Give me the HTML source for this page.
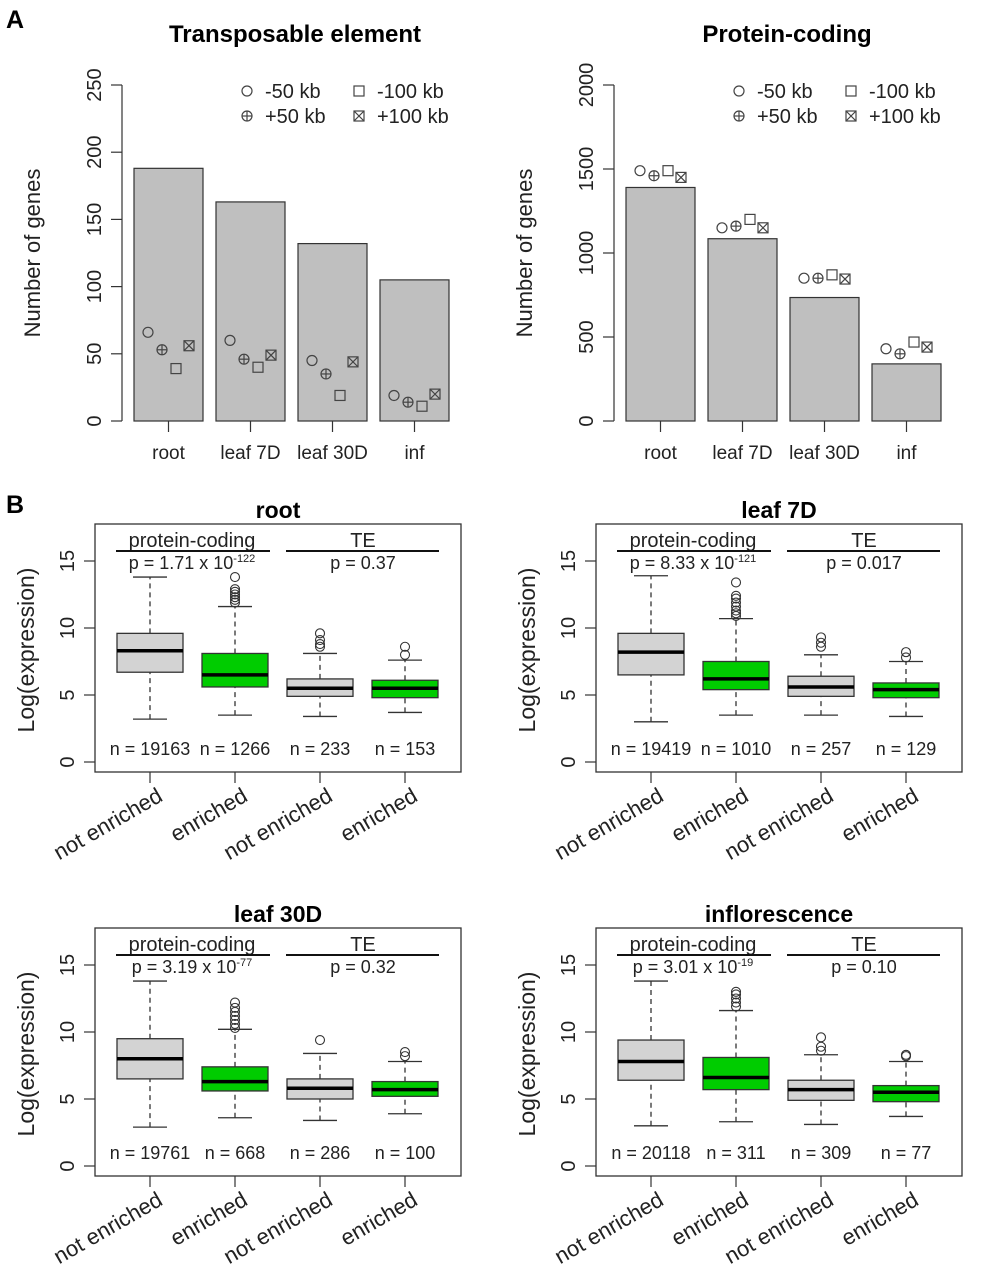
<!DOCTYPE html>
<html><head><meta charset="utf-8"><style>
body{margin:0;background:#fff}
svg{display:block;font-family:"Liberation Sans",Arial,sans-serif}
</style></head><body>
<svg id="fig" width="983" height="1280" viewBox="0 0 983 1280" xmlns="http://www.w3.org/2000/svg">
<text x="6" y="28" font-size="25" font-weight="bold">A</text>
<text x="6" y="513" font-size="25" font-weight="bold">B</text>
</svg>
<script>
const svg=document.getElementById('fig');
const NS='http://www.w3.org/2000/svg';
function mk(tag,attrs,parent){const e=document.createElementNS(NS,tag);for(const k in attrs)e.setAttribute(k,attrs[k]);(parent||svg).appendChild(e);return e;}
function txt(x,y,s,size,attrs,parent){const e=mk('text',Object.assign({x:x,y:y,'font-size':size},attrs||{}),parent);e.textContent=s;return e;}

// ---- Panel A data ----
const barCategories=['root','leaf 7D','leaf 30D','inf'];
const teBars=[188,163,132,105];
const teMinus50=[66,60,45,19];
const tePlus50=[53,46,35,14];
const teMinus100=[39,40,19,11];
const tePlus100=[56,49,44,20];
const teTicks=[0,50,100,150,200,250];
const pcBars=[1390,1085,735,340];
const pcMinus50=[1490,1150,850,430];
const pcPlus50=[1460,1160,850,400];
const pcMinus100=[1490,1200,870,470];
const pcPlus100=[1450,1150,845,440];
const pcTicks=[0,500,1000,1500,2000];

function marker(g,type,x,y){
  const st={fill:'none',stroke:'#444','stroke-width':1.2};
  if(type==='circle'||type==='cplus'){const c=mk('circle',Object.assign({cx:x,cy:y,r:5},st),g);
    if(type==='cplus'){mk('line',Object.assign({x1:x-5,y1:y,x2:x+5,y2:y},st),g);mk('line',Object.assign({x1:x,y1:y-5,x2:x,y2:y+5},st),g);}}
  else{const r=mk('rect',Object.assign({x:x-5,y:y-5,width:10,height:10},st),g);
    if(type==='sx'){mk('line',Object.assign({x1:x-5,y1:y-5,x2:x+5,y2:y+5},st),g);mk('line',Object.assign({x1:x+5,y1:y-5,x2:x-5,y2:y+5},st),g);}}
}

function barPanel(name,ox,title,bars,series,ticks,max){
  const g=mk('g',{});
  
  
  const y0=421,ytop=85;
  const yS=v=>y0-(v/max)*(y0-ytop);
  const axX=ox, firstC=ox+46.5, step=82, bw=69;
  const t=txt(ox+173,42,title,24,{'font-weight':'bold','text-anchor':'middle'},g);
  
  mk('line',{x1:axX,y1:yS(ticks[0]),x2:axX,y2:yS(ticks[ticks.length-1]),stroke:'#333','stroke-width':1.2},g);
  ticks.forEach(v=>{const y=yS(v);mk('line',{x1:axX-11,y1:y,x2:axX,y2:y,stroke:'#333','stroke-width':1.2},g);
    const l=txt(axX-21,y,String(v),20,{'text-anchor':'middle',transform:`rotate(-90 ${axX-21} ${y})`,fill:'#222'},g);});
  const yl=txt(ox-82,253,'Number of genes',22,{'text-anchor':'middle',transform:`rotate(-90 ${ox-82} 253)`,fill:'#222'},g);
  
  bars.forEach((v,i)=>{const cx=firstC+i*step;
    const r=mk('rect',{x:cx-bw/2,y:yS(v),width:bw,height:y0-yS(v),fill:'#bfbfbf',stroke:'#333','stroke-width':1.2},g);
    
    mk('line',{x1:cx,y1:y0,x2:cx,y2:y0+11,stroke:'#333','stroke-width':1.2},g);
    const l=txt(cx,459,barCategories[i],19,{'text-anchor':'middle',fill:'#222'},g);
    const types=['circle','cplus','square','sx'],offs=[-20.5,-6.5,7.5,20.5];
    series.forEach((s,k)=>marker(g,types[k],cx+offs[k],yS(s[i])));
  });
  const lg=mk('g',{},g);
  const lx=ox+125;
  [['circle','-50 kb',0,0],['square','-100 kb',112,0],['cplus','+50 kb',0,25],['sx','+100 kb',112,25]].forEach(([ty,lab,dx,dy])=>{
    marker(lg,ty,lx+dx,91+dy);const e=txt(lx+dx+18,98+dy,lab,20,{fill:'#222'},lg);});
}
barPanel('te-bar-chart',122,'Transposable element',teBars,[teMinus50,tePlus50,teMinus100,tePlus100],teTicks,250);
barPanel('pc-bar-chart',614,'Protein-coding',pcBars,[pcMinus50,pcPlus50,pcMinus100,pcPlus100],pcTicks,2000);

// ---- Panel B data: [lowWhisker, q1, median, q3, highWhisker] ----
const boxGroups=['not enriched','enriched','not enriched','enriched'];
const rootStats=[[3.2,6.7,8.3,9.6,13.8],[3.5,5.6,6.5,8.1,11.6],[3.4,4.9,5.5,6.2,8.1],[3.7,4.8,5.5,6.1,7.6]];
const rootOut=[[],[11.9,12.1,12.3,12.5,12.7,12.9,13.8],[8.6,8.8,9.1,9.6],[8.0,8.6]];
const rootN=['n = 19163','n = 1266','n = 233','n = 153'];
const leaf7Stats=[[3.0,6.5,8.2,9.6,13.9],[3.5,5.4,6.2,7.5,10.7],[3.5,4.9,5.6,6.4,8.0],[3.4,4.8,5.4,5.9,7.5]];
const leaf7Out=[[],[10.9,11.1,11.3,11.6,11.9,12.2,12.4,13.4],[8.6,8.9,9.3],[7.8,8.2]];
const leaf7N=['n = 19419','n = 1010','n = 257','n = 129'];
const leaf30Stats=[[2.9,6.5,8.0,9.5,13.8],[3.6,5.6,6.3,7.4,10.2],[3.4,5.0,5.8,6.5,8.4],[3.9,5.2,5.7,6.3,7.8]];
const leaf30Out=[[],[10.3,10.6,10.9,11.2,11.5,11.8,12.2],[9.4],[8.2,8.5]];
const leaf30N=['n = 19761','n = 668','n = 286','n = 100'];
const infStats=[[3.0,6.4,7.8,9.4,13.8],[3.3,5.7,6.6,8.1,11.6],[3.1,4.9,5.7,6.4,8.3],[3.7,4.8,5.5,6.0,7.8]];
const infOut=[[],[11.9,12.2,12.5,12.8,13.0],[8.6,8.9,9.6],[8.2,8.3]];
const infN=['n = 20118','n = 311','n = 309','n = 77'];
const boxTicks=[0,5,10,15];

function boxPanel(name,ox,oy,title,stats,outs,ns,pMant,pExp,pTE){
  const g=mk('g',{});
  
  
  const y0=oy+238, sc=13.4, yS=v=>y0-v*sc;
  const t=txt(ox+183,oy-6,title,23,{'font-weight':'bold','text-anchor':'middle'},g);
  
  const fr=mk('rect',{x:ox,y:oy,width:366,height:248,fill:'none',stroke:'#333','stroke-width':1.3},g);
  
  boxTicks.forEach(v=>{const y=yS(v);mk('line',{x1:ox-11,y1:y,x2:ox,y2:y,stroke:'#333','stroke-width':1.2},g);
    const l=txt(ox-21,y,String(v),20,{'text-anchor':'middle',transform:`rotate(-90 ${ox-21} ${y})`,fill:'#222'},g);});
  const yl=txt(ox-61,oy+126,'Log(expression)',23,{'text-anchor':'middle',transform:`rotate(-90 ${ox-61} ${oy+126})`,fill:'#222'},g);
  
  [[ox+97,ox+21,ox+175,'protein-coding'],[ox+268,ox+191,ox+344,'TE']].forEach(([cx,a,b,s])=>{
    const h=txt(cx,oy+23,s,20,{'text-anchor':'middle',fill:'#222'},g);
    mk('line',{x1:a,y1:oy+27,x2:b,y2:oy+27,stroke:'#111','stroke-width':2},g);});
  const p1=txt(ox+97,oy+45,'p = '+pMant+' x 10',18,{'text-anchor':'middle',fill:'#222'},g);
  const sup=mk('tspan',{'font-size':11,dy:-7},p1);sup.textContent=pExp;
  
  const p2=txt(ox+268,oy+45,'p = '+pTE,18,{'text-anchor':'middle',fill:'#222'},g);
  
  stats.forEach((s,i)=>{
    const cx=ox+55+i*85, fill=(i%2===1)?'#00cc00':'#d3d3d3';
    const bg=mk('g',{},g);
    mk('line',{x1:cx,y1:yS(s[0]),x2:cx,y2:yS(s[1]),stroke:'#333','stroke-width':1.3,'stroke-dasharray':'5,4'},bg);
    mk('line',{x1:cx,y1:yS(s[3]),x2:cx,y2:yS(s[4]),stroke:'#333','stroke-width':1.3,'stroke-dasharray':'5,4'},bg);
    mk('line',{x1:cx-17,y1:yS(s[0]),x2:cx+17,y2:yS(s[0]),stroke:'#333','stroke-width':1.3},bg);
    mk('line',{x1:cx-17,y1:yS(s[4]),x2:cx+17,y2:yS(s[4]),stroke:'#333','stroke-width':1.3},bg);
    mk('rect',{x:cx-33,y:yS(s[3]),width:66,height:yS(s[1])-yS(s[3]),fill:fill,stroke:'#333','stroke-width':1.3},bg);
    mk('line',{x1:cx-33,y1:yS(s[2]),x2:cx+33,y2:yS(s[2]),stroke:'#000','stroke-width':3.5},bg);
    outs[i].forEach(v=>{const c=mk('circle',{cx:cx,cy:yS(v),r:4.5,fill:'none',stroke:'#333','stroke-width':1.1},bg);});
    const n=txt(cx,oy+231,ns[i],18,{'text-anchor':'middle',fill:'#222'},g);
    mk('line',{x1:cx,y1:oy+248,x2:cx,y2:oy+259,stroke:'#333','stroke-width':1.2},g);
    const xl=txt(cx+14,oy+276,boxGroups[i],22,{'text-anchor':'end',transform:`rotate(-30 ${cx+14} ${oy+276})`,fill:'#222'},g);
    
  });
}
boxPanel('root-boxplot',95,524,'root',rootStats,rootOut,rootN,'1.71','-122','0.37');
boxPanel('leaf7d-boxplot',596,524,'leaf 7D',leaf7Stats,leaf7Out,leaf7N,'8.33','-121','0.017');
boxPanel('leaf30d-boxplot',95,928,'leaf 30D',leaf30Stats,leaf30Out,leaf30N,'3.19','-77','0.32');
boxPanel('inflorescence-boxplot',596,928,'inflorescence',infStats,infOut,infN,'3.01','-19','0.10');
</script>
</body></html>
